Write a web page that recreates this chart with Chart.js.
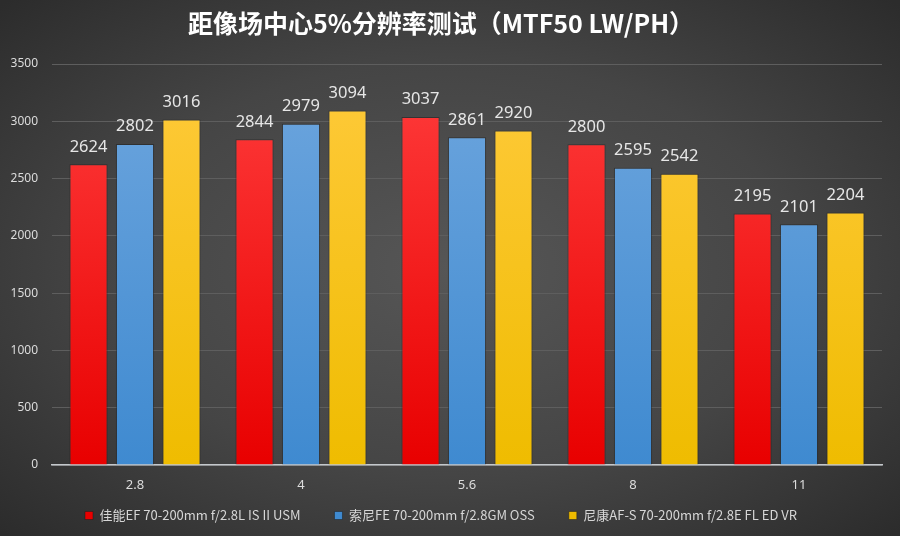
<!DOCTYPE html>
<html>
<head>
<meta charset="utf-8">
<script src="https://cdn.jsdelivr.net/npm/chart.js@4/dist/chart.umd.min.js"></script>
<style>
html,body{margin:0;padding:0;}
body{width:900px;height:536px;background:radial-gradient(ellipse 70% 70% at 50% 50%, #565656 0%, #454545 55%, #2c2c2c 100%);overflow:hidden;}
#wrap{width:900px;height:536px;position:relative;}
</style>
</head>
<body>
<div id="wrap"><canvas id="c" width="900" height="536"></canvas></div>
<script>
const categories = ['2.8', '4', '5.6', '8', '11'];
const seriesNames = ['佳能EF 70-200mm f/2.8L IS II USM', '索尼FE 70-200mm f/2.8GM OSS', '尼康AF-S 70-200mm f/2.8E FL ED VR'];
const canonValues = [2624, 2844, 3037, 2800, 2195];
const sonyValues = [2802, 2979, 2861, 2595, 2101];
const nikonValues = [3016, 3094, 2920, 2542, 2204];
const yTicks = [0, 500, 1000, 1500, 2000, 2500, 3000, 3500];

const FONT = '"Noto Sans", "Noto Sans CJK SC", sans-serif';

function grad(top, bottom) {
  return function(ctx) {
    const ch = ctx.chart;
    const a = ch.chartArea;
    if (!a) return bottom;
    const g = ch.ctx.createLinearGradient(0, a.top, 0, a.bottom);
    g.addColorStop(0, top);
    g.addColorStop(1, bottom);
    return g;
  };
}

const valueLabels = {
  id: 'valueLabels',
  afterDatasetsDraw(chart) {
    const c = chart.ctx;
    c.save();
    c.font = '16.5px ' + FONT;
    c.fillStyle = '#e6e6e6';
    c.textAlign = 'center';
    c.textBaseline = 'bottom';
    chart.data.datasets.forEach((ds, i) => {
      chart.getDatasetMeta(i).data.forEach((el, j) => {
        c.fillText(String(ds.data[j]), el.x, el.y - 9);
      });
    });
    c.restore();
  }
};

new Chart(document.getElementById('c'), {
  type: 'bar',
  data: {
    labels: categories,
    datasets: [
      { label: seriesNames[0], data: canonValues, backgroundColor: grad('#ff3d3d', '#e80000'), borderColor: 'rgba(30,30,30,0.5)', borderWidth: 1 },
      { label: seriesNames[1], data: sonyValues, backgroundColor: grad('#6ea6de', '#3f8ad0'), borderColor: 'rgba(30,30,30,0.5)', borderWidth: 1 },
      { label: seriesNames[2], data: nikonValues, backgroundColor: grad('#ffca3c', '#efbc00'), borderColor: 'rgba(30,30,30,0.5)', borderWidth: 1 }
    ]
  },
  options: {
    responsive: false,
    animation: false,
    devicePixelRatio: 1,
    layout: { padding: { left: 0, right: 18, top: 0, bottom: 4 } },
    datasets: { bar: { categoryPercentage: 0.84, barPercentage: 0.82 } },
    scales: {
      x: {
        grid: { display: false, drawTicks: false },
        border: { display: true, color: '#c4c8cc', width: 1.5 },
        ticks: { color: '#dcdcdc', font: { size: 13, family: FONT }, padding: 12 },
        afterFit(s) { s.height = 36; }
      },
      y: {
        min: 0, max: 3500,
        afterBuildTicks(s) { s.ticks = yTicks.map(v => ({ value: v })); },
        grid: { color: '#5e5e5e', lineWidth: 1, drawTicks: false },
        border: { display: false },
        ticks: { color: '#dcdcdc', font: { size: 12, family: FONT }, padding: 14, callback: (v) => String(v) },
        afterFit(s) { s.width = 52; }
      }
    },
    plugins: {
      title: {
        display: true,
        text: '距像场中心5%分辨率测试（MTF50 LW/PH）',
        color: '#ffffff',
        font: { size: 25, weight: 'bold', family: '"Noto Sans CJK SC", sans-serif' },
        padding: { top: 8, bottom: 26 }
      },
      legend: {
        position: 'bottom',
        labels: {
          color: '#d6d6d6',
          font: { size: 13, family: '"Noto Sans CJK SC", "Noto Sans", sans-serif' },
          boxWidth: 8, boxHeight: 8, padding: 8, useBorderRadius: false,
          generateLabels(chart) {
            const items = Chart.defaults.plugins.legend.labels.generateLabels(chart);
            items.forEach((it, i) => { if (i < items.length - 1) it.text = it.text + '\u2003\u2003'; });
            return items;
          }
        }
      },
      tooltip: { enabled: false }
    }
  },
  plugins: [valueLabels]
});
</script>
</body>
</html>
